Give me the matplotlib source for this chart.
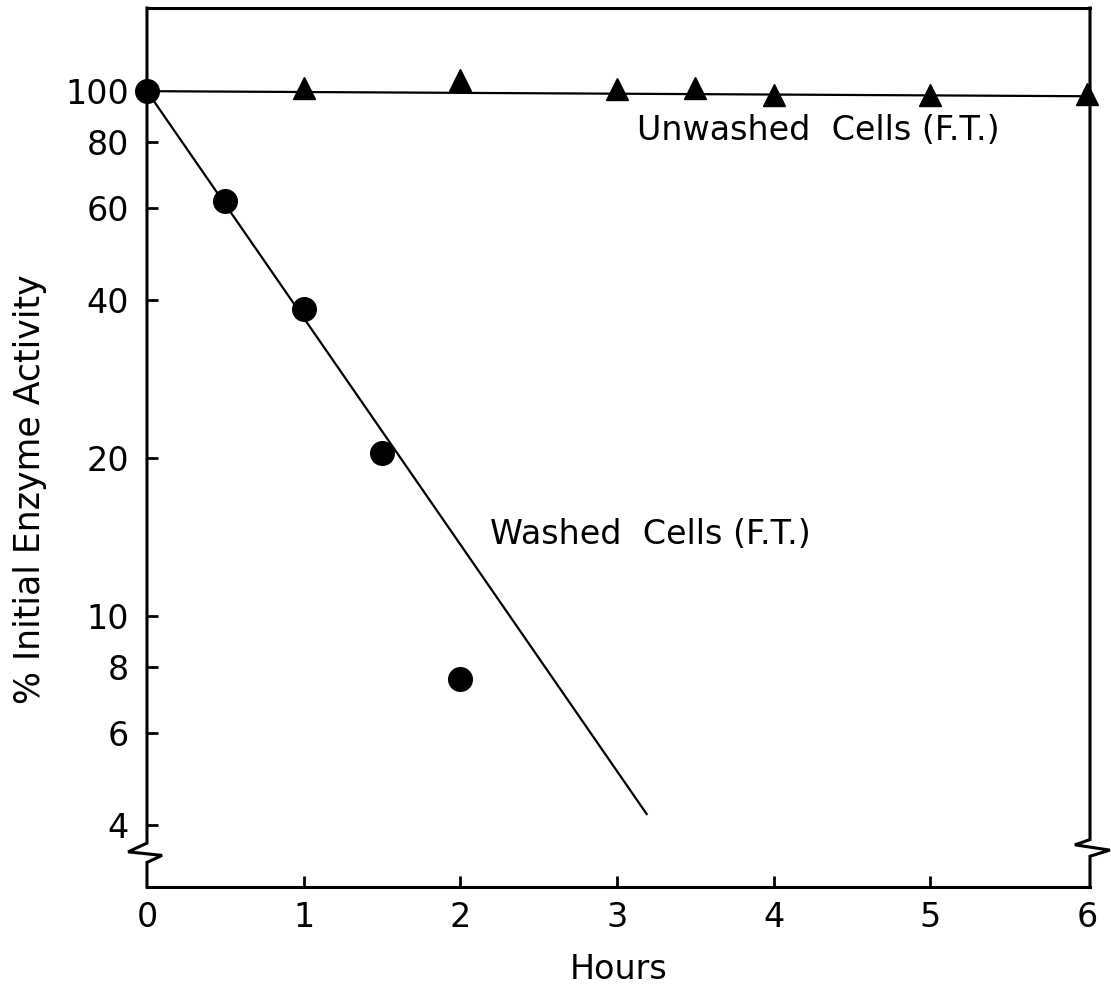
import matplotlib
matplotlib.use("Agg")
import matplotlib.pyplot as plt
from matplotlib.ticker import FixedLocator, NullLocator, FixedFormatter

# washed cells (circles) and fitted decay line
washed_hours = [0, 0.5, 1.0, 1.5, 2.0]
washed_activity = [100, 61.7, 38.4, 20.5, 7.6]
washed_fit_hours = [0, 3.19]
washed_fit_activity = [100, 4.2]

# unwashed cells (triangles) and their line
unwashed_hours = [1, 2, 3, 3.5, 4, 5, 6]
unwashed_activity = [101.5, 105.0, 100.8, 101.5, 98.5, 98.3, 98.8]
unwashed_fit_hours = [0, 6]
unwashed_fit_activity = [100, 97.8]

y_ticks = [100, 80, 60, 40, 20, 10, 8, 6, 4]
y_tick_labels = ['100', '80', '60', '40', '20', '10', '8', '6', '4']
x_ticks = [0, 1, 2, 3, 4, 5, 6]


def main():
    plt.rcParams['font.family'] = 'DejaVu Sans'
    fig = plt.figure(figsize=(11.11, 9.89), dpi=100)
    ax = fig.add_axes([0.1323, 0.1031, 0.8488, 0.8888])

    ax.set_yscale('log')
    ax.set_xlim(0, 6.02)
    ax.set_ylim(3.05, 144)

    ax.plot(washed_fit_hours, washed_fit_activity, color='black', lw=1.6, zorder=2)
    ax.plot(unwashed_fit_hours, unwashed_fit_activity, color='black', lw=1.6, zorder=2)
    ax.plot(unwashed_hours, unwashed_activity, ls='none', marker='^', ms=16,
            color='black', zorder=3, clip_on=False)
    ax.plot(washed_hours, washed_activity, ls='none', marker='o', ms=17,
            color='black', zorder=4, clip_on=False)

    ax.text(3.13, 84, 'Unwashed  Cells (F.T.)', fontsize=24, ha='left', va='center')
    ax.text(2.19, 14.3, 'Washed  Cells (F.T.)', fontsize=24, ha='left', va='center')

    # y axis: log scale with hand-picked ticks
    ax.yaxis.set_major_locator(FixedLocator(y_ticks))
    ax.yaxis.set_major_formatter(FixedFormatter(y_tick_labels))
    ax.yaxis.set_minor_locator(NullLocator())
    ax.set_xticks(x_ticks)
    ax.tick_params(axis='both', direction='in', length=8, width=2,
                   labelsize=24, top=False, right=False)
    ax.tick_params(axis='y', pad=13)
    ax.tick_params(axis='x', pad=10)
    xt = ax.xaxis.get_major_ticks()
    xt[0].tick1line.set_visible(False)
    xt[-1].tick1line.set_visible(False)
    ax.yaxis.get_major_ticks()[0].tick1line.set_visible(False)

    ax.set_ylabel('% Initial Enzyme Activity', fontsize=25)
    ax.yaxis.set_label_coords(-0.106, 0.453)
    ax.set_xlabel('Hours', fontsize=24, labelpad=14)

    for side in ['top', 'bottom']:
        ax.spines[side].set_linewidth(2.2)
    ax.spines['left'].set_visible(False)
    ax.spines['right'].set_visible(False)

    # left and right spines drawn by hand with the axis-break zigzag
    left_x = [0, 0, -0.020, 0.016, 0, 0]
    left_y = [1, 0.050, 0.040, 0.036, 0.028, 0]
    right_x = [1, 1, 0.984, 1.021, 1, 1]
    right_y = [1, 0.054, 0.048, 0.042, 0.035, 0]
    ax.plot(left_x, left_y, color='black', lw=2.2, transform=ax.transAxes,
            clip_on=False, solid_joinstyle='miter')
    ax.plot(right_x, right_y, color='black', lw=2.2, transform=ax.transAxes,
            clip_on=False, solid_joinstyle='miter')

    fig.savefig('out.png', dpi=100)


if __name__ == '__main__':
    main()
